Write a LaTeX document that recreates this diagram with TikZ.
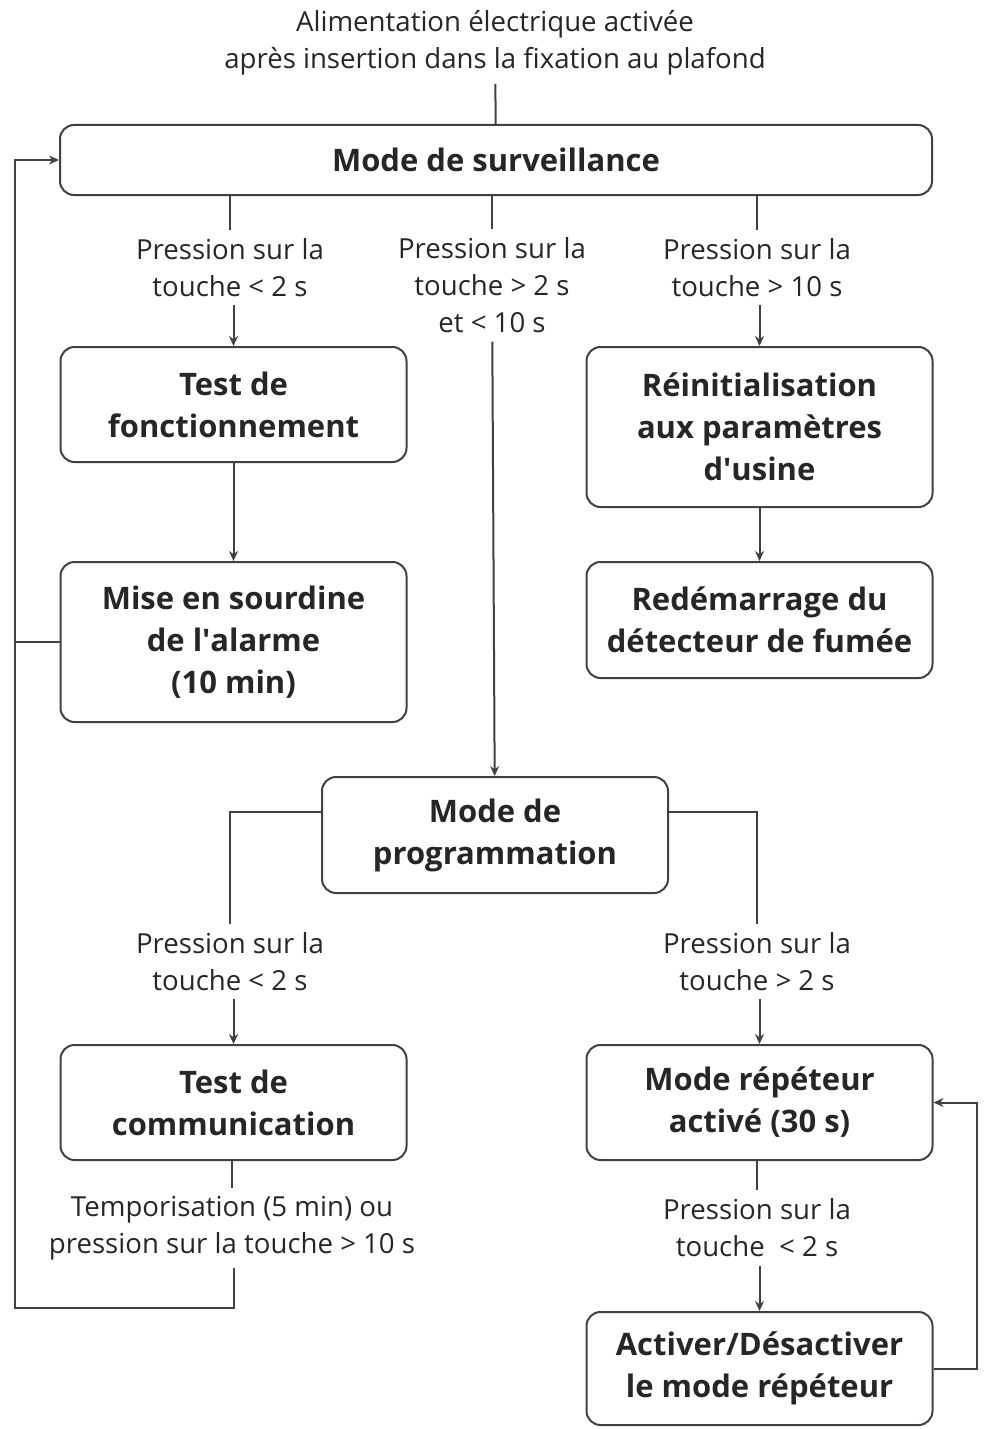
\documentclass[tikz,border=0pt]{standalone}
\usepackage{fontspec}
\setmainfont{Open Sans}
\usetikzlibrary{arrows.meta, positioning}

\begin{document}
\begin{tikzpicture}[
    x=0.5pt, y=-0.5pt,
    font=\fontsize{13.8}{18.5}\selectfont,
    state/.style={draw=black!75, line width=1pt, rounded corners=7pt, align=center, text=black!85,
        font=\fontsize{15.5}{21}\selectfont\bfseries, minimum width=173pt, minimum height=57.5pt, inner sep=2pt},
    cond/.style={align=center, text=black!85, inner sep=4pt},
    wire/.style={draw=black!75, line width=1pt},
    arr/.style={wire, -{Stealth[length=5pt, width=4.5pt]}}
]
\useasboundingbox (0,0) rectangle (984,1429);

\node[cond] (power) at (495,43) {Alimentation électrique activée\\après insertion dans la fixation au plafond};

\node[state, minimum width=436pt, minimum height=35pt] (surv) at (496,160) {Mode de surveillance};

\node[cond] (c1) at (230,267.5) {Pression sur la\\touche < 2 s};
\node[cond] (c2) at (492,285.5) {Pression sur la\\touche > 2 s\\et < 10 s};
\node[cond] (c3) at (757,267.5) {Pression sur la\\touche > 10 s};

\node[state] (ftest) at (233.5,404.5) {Test de\\fonctionnement};
\node[state, minimum height=80pt] (mute) at (233.5,642) {Mise en sourdine\\de l\textquotesingle alarme\\(10 min)};
\node[state, minimum height=80pt] (reset) at (759.5,427) {Réinitialisation\\aux paramètres\\d\textquotesingle usine};
\node[state, minimum height=58pt] (reboot) at (759.5,620) {Redémarrage du\\détecteur de fumée};

\node[state, minimum height=58pt] (prog) at (495,835) {Mode de\\programmation};

\node[cond] (c4) at (230,961.5) {Pression sur la\\touche < 2 s};
\node[cond] (c5) at (757,961.5) {Pression sur la\\touche > 2 s};

\node[state] (ctest) at (233.5,1102.5) {Test de\\communication};
\node[state] (rep) at (759.5,1102.5) {Mode répéteur\\activé (30 s)};

\node[cond] (c6) at (232,1228) {Temporisation (5 min) ou\\pression sur la touche > 10 s};
\node[cond] (c7) at (757,1228) {Pression sur la\\touche \ < 2 s};

\node[state, minimum height=56.5pt] (toggle) at (759.5,1368.5) {Activer/Désactiver\\le mode répéteur};

\coordinate (lloop) at (15,1308);
\coordinate (rloop) at (977,1102.5);

\draw[wire] (power) -- (surv);
\draw[wire] (surv.south -| c1) -- (c1);
\draw[wire] (surv.south -| c2) -- (c2);
\draw[wire] (surv.south -| c3) -- (c3);
\draw[arr] (c1.south -| ftest) -- (ftest);
\draw[arr] (c2) -- (prog);
\draw[arr] (c3.south -| reset) -- (reset);
\draw[arr] (ftest) -- (mute);
\draw[arr] (reset) -- (reboot);

\draw[wire] ([yshift=11.5pt]prog.west) -| (c4);
\draw[wire] ([yshift=11.5pt]prog.east) -| (c5);
\draw[arr] (c4.south -| ctest) -- (ctest);
\draw[arr] (c5.south -| rep) -- (rep);

\draw[wire] (ctest.south -| c6) -- (c6);
\draw[wire] (rep.south -| c7) -- (c7);
\draw[arr] (c7.south -| toggle) -- (toggle);

\draw[arr] (c6.south -| ctest) |- (lloop) |- (surv.west);
\draw[wire] (mute.west) -- (mute.west -| lloop);
\draw[arr] (toggle.east) -| (rloop) -- (rep.east);

\end{tikzpicture}
\end{document}
